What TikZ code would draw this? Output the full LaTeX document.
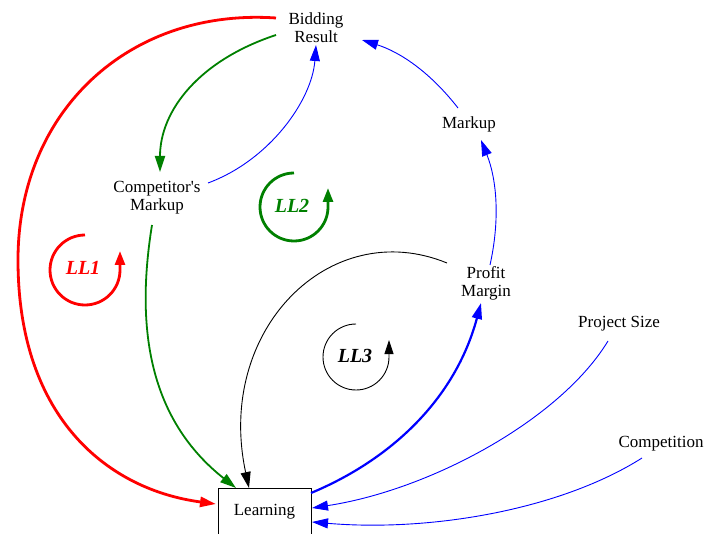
\documentclass[tikz,border=0pt]{standalone}
\usepackage{fontspec}
\setmainfont{Liberation Serif}
\usetikzlibrary{arrows.meta}
\definecolor{dgreen}{RGB}{0,128,0}
\tikzset{
  lbl/.style={font=\fontsize{17}{18}\selectfont, align=center, inner sep=1pt},
  tip/.style={-{Triangle[length=16pt,width=10pt]}},
  thinblue/.style={tip, blue, line width=0.9pt},
  thickblue/.style={tip, blue, line width=2.2pt},
  gline/.style={tip, dgreen, line width=1.8pt},
  rline/.style={tip, red, line width=2.8pt},
  kline/.style={tip, black, line width=0.9pt},
  loopl/.style={font=\fontsize{20}{22}\selectfont\bfseries\itshape},
}
\begin{document}
\begin{tikzpicture}[x=1pt,y=-1pt]
\useasboundingbox (0,0) rectangle (706,534);
\node[lbl] (br) at (316,28) {Bidding\\Result};
\node[lbl] (cm) at (157,198) {Competitor\textquotesingle s\\Markup};
\node[lbl] (mk) at (469,124) {Markup};
\node[lbl] (pm) at (486,283) {Profit\\Margin};
\node[lbl] (ps) at (619,324) {Project Size};
\node[lbl] (co) at (661,444) {Competition};
\node[lbl, draw, line width=0.8pt, minimum width=93pt, minimum height=48pt, inner sep=0pt] (le) at (264.5,512) {Learning};

\coordinate (brL1) at (276,18);
\coordinate (brL2) at (276,35);
\coordinate (brB) at (316,45);
\coordinate (brR) at (362,40);
\coordinate (cmT) at (160,172);
\coordinate (cmR) at (208,183);
\coordinate (cmB) at (152,225);
\coordinate (mkT) at (458,108);
\coordinate (mkB) at (481,140);
\coordinate (pmT) at (490,265);
\coordinate (pmL) at (447,263);
\coordinate (pmB) at (481,303);
\coordinate (psB) at (608,341);
\coordinate (coB) at (642,458);
\coordinate (leL) at (216,504);
\coordinate (leT1) at (236,488);
\coordinate (leT2) at (249,488);
\coordinate (leR1) at (311,493);
\coordinate (leR2) at (312,508);
\coordinate (leR3) at (312,522);

\draw[rline] (brL1) .. controls (130,8) and (18,110) .. (18,260) .. controls (18,420) and (110,490) .. (leL);
\draw[gline] (brL2) .. controls (200,60) and (160,110) .. (cmT);
\draw[thinblue] (cmR) .. controls (270,160) and (312,100) .. (brB);
\draw[gline] (cmB) .. controls (135,330) and (150,420) .. (leT1);
\draw[thinblue] (mkT) .. controls (430,72) and (400,52) .. (brR);
\draw[thinblue] (pmT) .. controls (500,220) and (497,180) .. (mkB);
\draw[kline] (pmL) .. controls (330,215) and (215,330) .. (leT2);
\draw[thickblue] (leR1) .. controls (390,460) and (455,400) .. (pmB);
\draw[thinblue] (psB) .. controls (560,420) and (430,490) .. (leR2);
\draw[thinblue] (coB) .. controls (560,510) and (430,532) .. (leR3);

\node[loopl, text=red] (ll1) at (83,268) {LL1};
\node[loopl, text=dgreen] (ll2) at (292,206) {LL2};
\node[loopl, text=black] (ll3) at (355,356) {LL3};

\draw[red, line width=2.8pt, -{Triangle[length=14pt,width=10pt]}] (85,235) arc[start angle=-90, end angle=-360, radius=35] -- ++(0,-19);
\draw[dgreen, line width=2.8pt, -{Triangle[length=14pt,width=10pt]}] (294,173) arc[start angle=-90, end angle=-360, radius=34] -- ++(0,-19);
\draw[black, line width=0.9pt, -{Triangle[length=14pt,width=9pt]}] (356,324) arc[start angle=-90, end angle=-360, radius=33] -- ++(0,-17);
\end{tikzpicture}
\end{document}
